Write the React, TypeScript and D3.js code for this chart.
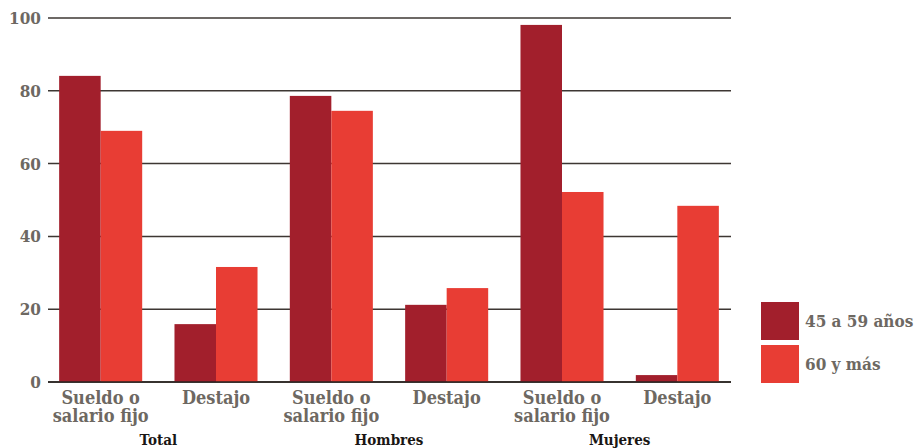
import React from 'react';
import * as d3 from 'd3';

// categories (bars) and their group labels
const categories = ['T-S', 'T-D', 'H-S', 'H-D', 'M-S', 'M-D'];
const categoryLabels = [
  ['Sueldo o', 'salario fijo'],
  ['Destajo'],
  ['Sueldo o', 'salario fijo'],
  ['Destajo'],
  ['Sueldo o', 'salario fijo'],
  ['Destajo'],
];
const groups = ['Total', 'Hombres', 'Mujeres'];
const series = ['45 a 59 años', '60 y más'];
const values45 = [84.1, 15.9, 78.6, 21.2, 98.1, 1.9];
const values60 = [69.0, 31.6, 74.5, 25.8, 52.2, 48.4];
const yTicks = [0, 20, 40, 60, 80, 100];

const W = 921;
const H = 448;
const colors = ['#a21f2c', '#e83d34'];
const grey = '#6d6862';
const font = '"DejaVu Serif", serif';

const App: React.FC = () => {
  const x = d3.scaleBand<string>().domain(categories).range([43, 735]).paddingInner(0.28).paddingOuter(0.14);
  const x1 = d3.scaleBand<string>().domain(series).range([0, x.bandwidth()]);
  const y = d3.scaleLinear().domain([0, 100]).range([382, 18]);
  const data = [values45, values60];

  return (
    <svg width={W} height={H} style={{ position: 'absolute', left: 0, top: 0, background: '#fff' }}
      fontFamily={font}>
      {yTicks.map(t => (
        <g key={t}>
          <line x1={48} x2={731} y1={y(t)} y2={y(t)} stroke={t === 0 ? '#2a2522' : '#3d3733'} strokeWidth={1.5} />
          <text x={41} y={y(t)} dy="0.35em" textAnchor="end" fontSize={17} fontWeight="bold"
            fill={grey} style={{ fontStretch: 'condensed' }}>{t}</text>
        </g>
      ))}
      {series.map((s, si) => (
        <g key={s}>
          {categories.map((c, ci) => (
            <rect key={c} x={(x(c) ?? 0) + (x1(s) ?? 0)} width={x1.bandwidth()}
              y={y(data[si][ci])} height={y(0) - y(data[si][ci])} fill={colors[si]} />
          ))}
        </g>
      ))}
      <line x1={48} x2={731} y1={y(0)} y2={y(0)} stroke="#2a2522" strokeWidth={1.5} />
      {categories.map((c, ci) => (
        <text key={c} textAnchor="middle" fontSize={18} fontWeight="bold" fill={grey}
          style={{ fontStretch: 'condensed' }}>
          {categoryLabels[ci].map((l, li) => (
            <tspan key={li} x={(x(c) ?? 0) + x.bandwidth() / 2} y={404 + li * 18}>{l}</tspan>
          ))}
        </text>
      ))}
      {groups.map((g, gi) => {
        const a = (x(categories[gi * 2]) ?? 0) + x.bandwidth() / 2;
        const b = (x(categories[gi * 2 + 1]) ?? 0) + x.bandwidth() / 2;
        return (
          <text key={g} x={(a + b) / 2} y={445} textAnchor="middle" fontSize={15} fontWeight="bold"
            fill="#1a1614" style={{ fontStretch: 'condensed' }}>{g}</text>
        );
      })}
      {series.map((s, si) => (
        <g key={s} transform={`translate(761, ${302 + si * 43})`}>
          <rect width={38} height={38} fill={colors[si]} />
          <text x={44} y={19} dy="0.35em" fontSize={17} fontWeight="bold" fill={grey}
            style={{ fontStretch: 'condensed' }}>{s}</text>
        </g>
      ))}
    </svg>
  );
};

export default App;
